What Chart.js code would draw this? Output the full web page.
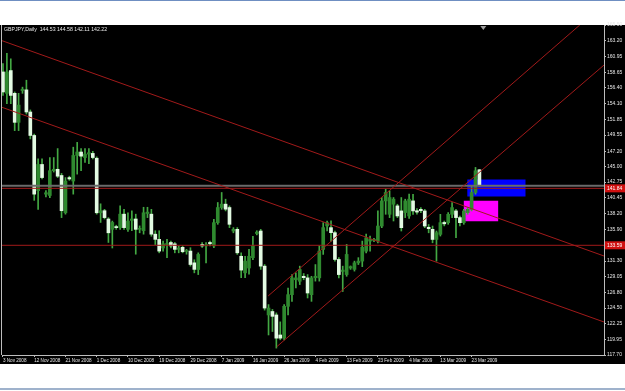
<!DOCTYPE html>
<html>
<head>
<meta charset="utf-8">
<script src="https://cdn.jsdelivr.net/npm/chart.js@4.4.1/dist/chart.umd.min.js"></script>
<style>
  html, body { margin: 0; padding: 0; background: #fff; }
  #wrap { position: relative; width: 625px; height: 391px; overflow: hidden; }
  #priceChart { position: absolute; left: 0; top: 0; }
  #caption { position: absolute; left: 4px; top: 26px; color: #e8e8e8; font: 5.2px 'Liberation Sans', Arial, sans-serif; white-space: pre; }
</style>
</head>
<body>
<div id="wrap">
  <canvas id="priceChart" width="625" height="391"></canvas>
  <div id="caption">GBPJPY,Daily  144.53 144.58 142.11 142.22</div>
</div>
<script>
// daily candles, 3 Nov 2008 .. 25 Mar 2009 (bar index = position)
const opens = [
  158.7, 155.6, 158.9, 155.6, 151.4, 156.0, 156.1, 152.9, 149.5, 141.5,
  145.3, 141.0, 140.8, 144.4, 144.6, 143.7, 138.3, 143.4, 142.9, 146.6,
  147.1, 146.3, 146.8, 146.9, 146.2, 138.3, 138.6, 137.4, 135.9, 136.3,
  136.15, 138.1, 135.9, 137.2, 137.4, 135.9, 135.7, 138.2, 138.1, 135.2,
  134.45, 133.2, 133.7, 134.0, 133.8, 133.0, 133.3, 132.7, 132.75, 131.05,
  130.08, 133.7, 133.5, 134.0, 133.5, 136.87, 139.06, 139.55, 139.06, 135.66,
  135.9, 132.0, 129.6, 130.3, 131.8, 135.3, 135.66, 130.57, 123.5, 124.0,
  123.5, 120.6, 120.14, 124.75, 126.44, 128.6, 128.38, 129.1, 128.87, 126.44,
  128.9, 128.87, 132.99, 136.4, 136.15, 135.42, 131.54, 129.8, 129.35, 130.3,
  130.1, 131.05, 131.3, 132.74, 134.2, 134.3, 134.2, 136.38, 140.02, 138.08,
  139.54, 139.3, 138.57, 138.33, 137.84, 140.02, 138.6, 138.8, 138.57, 136.2,
  135.9, 134.44, 135.17, 136.9, 136.87, 138.08, 138.57, 137.6, 136.87, 138.33,
  138.8, 141.24, 144.53
];
const highs = [
  159.9, 161.4, 160.6, 155.8, 155.6, 156.5, 157.5, 153.2, 149.7, 146.1,
  146.1, 141.5, 146.3, 146.3, 147.6, 144.0, 143.4, 143.6, 147.8, 148.5,
  147.6, 147.6, 147.6, 147.2, 146.4, 139.6, 138.8, 137.6, 137.1, 136.5,
  139.3, 138.8, 138.3, 138.6, 138.1, 136.4, 139.1, 139.1, 138.8, 135.7,
  135.7, 134.2, 134.45, 134.2, 134.0, 133.5, 133.5, 133.0, 133.24, 131.5,
  132.5, 134.0, 134.0, 134.2, 137.36, 139.79, 141.24, 140.27, 139.3, 136.15,
  136.15, 132.5, 132.0, 133.0, 134.9, 135.7, 135.9, 130.8, 125.0, 124.3,
  123.8, 122.5, 125.0, 127.4, 129.35, 129.6, 130.57, 129.5, 129.35, 129.1,
  130.8, 133.5, 136.87, 137.1, 137.12, 135.66, 131.8, 130.57, 133.72, 130.6,
  131.3, 131.8, 134.2, 135.2, 134.93, 134.6, 138.57, 140.51, 141.72, 141.48,
  140.51, 139.54, 140.51, 140.27, 141.0, 140.99, 138.9, 139.06, 138.8, 136.6,
  136.38, 135.66, 138.08, 137.1, 138.33, 139.79, 138.8, 137.84, 138.8, 139.06,
  142.2, 144.87, 144.58
];
const lows = [
  155.3, 154.1, 154.1, 150.2, 150.2, 155.6, 152.6, 149.0, 140.1, 138.8,
  143.2, 140.6, 140.5, 144.2, 143.4, 137.6, 138.1, 143.0, 141.0, 143.9,
  144.4, 145.6, 145.4, 146.1, 138.1, 136.9, 137.4, 134.0, 133.2, 135.9,
  135.9, 135.9, 135.6, 135.7, 132.3, 135.4, 135.2, 137.6, 134.9, 133.7,
  132.5, 132.75, 131.8, 133.2, 132.5, 132.5, 132.5, 132.3, 130.57, 129.6,
  129.35, 133.3, 131.05, 133.5, 133.24, 136.63, 138.8, 138.57, 136.15, 135.4,
  132.27, 128.9, 128.9, 129.4, 131.5, 135.1, 130.1, 124.2, 120.6, 121.1,
  118.7, 119.9, 119.9, 123.5, 125.47, 127.41, 127.9, 128.6, 125.96, 125.47,
  128.4, 128.4, 132.27, 135.66, 134.2, 131.3, 128.87, 126.9, 129.1, 130.1,
  129.85, 130.8, 130.5, 132.5, 132.74, 134.1, 133.95, 136.14, 138.08, 137.6,
  137.11, 137.6, 135.66, 137.6, 137.5, 138.08, 138.1, 138.3, 136.14, 135.4,
  133.95, 131.29, 134.93, 136.4, 136.63, 137.6, 134.68, 136.38, 136.63, 138.08,
  138.57, 140.99, 142.11
];
const closes = [
  155.8, 158.7, 155.3, 151.4, 153.9, 156.2, 152.9, 149.5, 141.0, 145.3,
  143.4, 141.2, 144.4, 144.6, 143.6, 138.6, 142.9, 143.2, 146.6, 147.1,
  146.5, 146.8, 147.0, 146.3, 138.3, 138.6, 137.6, 135.4, 136.9, 136.15,
  138.1, 136.15, 137.1, 137.4, 135.9, 136.0, 138.3, 138.4, 135.2, 134.45,
  132.75, 133.8, 133.8, 133.5, 133.0, 133.2, 132.66, 132.8, 130.81, 130.1,
  132.27, 133.5, 133.7, 133.8, 136.87, 139.06, 139.55, 138.82, 136.63, 135.9,
  132.5, 130.0, 131.3, 132.0, 133.5, 135.5, 130.57, 124.5, 124.5, 123.3,
  120.14, 120.14, 124.75, 126.44, 128.87, 128.87, 130.08, 128.9, 126.68, 128.87,
  129.1, 132.75, 136.15, 136.87, 135.42, 131.54, 129.35, 130.0, 132.27, 130.5,
  131.05, 131.3, 133.3, 134.68, 134.44, 134.4, 136.38, 140.02, 141.24, 140.51,
  140.27, 137.84, 136.14, 140.02, 140.27, 138.57, 138.4, 138.6, 136.38, 136.0,
  134.44, 135.42, 136.87, 136.7, 138.08, 139.05, 137.6, 136.87, 138.57, 138.8,
  141.24, 144.39, 142.22
];

// time axis labels, one every 8 bars
const xTickLabels = [
  '3 Nov 2008', '12 Nov 2008', '21 Nov 2008', '1 Dec 2008', '10 Dec 2008',
  '19 Dec 2008', '29 Dec 2008', '7 Jan 2009', '16 Jan 2009', '26 Jan 2009',
  '4 Feb 2009', '13 Feb 2009', '23 Feb 2009', '4 Mar 2009', '13 Mar 2009',
  '23 Mar 2009'
];
const barsPerLabel = 8;

// price axis labels
const yTicks = [
  165.50, 163.20, 160.95, 158.65, 156.40, 154.10, 151.85, 149.55, 147.20,
  145.00, 142.75, 140.45, 138.20, 135.90, 131.30, 129.05, 126.80, 124.50,
  122.25, 119.95, 117.70
];

// horizontal levels and bid
const levelPrices = [141.84, 133.59];
const bidPrice = 142.22;

// trend lines (bar index / price)
const trendStartIdx = [-0.26, -0.26, 67.9, 70.1];
const trendStartPrice = [163.23, 153.58, 126.25, 118.9];
const trendEndIdx = [153.9, 153.9, 147.7, 153.9];
const trendEndPrice = [132.04, 122.48, 165.5, 159.7];

// rectangles (blue, magenta)
const boxStartIdx = [118.9, 118.0];
const boxEndIdx = [133.8, 126.8];
const boxLow = [140.65, 137.06];
const boxHigh = [143.12, 140.06];

const xMin = -0.25;
const xMax = 153.9;
const yMin = 117.70;
const yMax = 165.50;

const bullFill = '#2f8a2f';
const bearFill = '#e2fae2';
const wickColor = '#43a843';
const lineRed = '#a11a1a';
const boxColors = ['#0000ff', '#ff00ff'];

const framePlugin = {
    id: 'frame',
    beforeDraw(chart) {
        const ctx = chart.ctx;
        const a = chart.chartArea;
        ctx.save();
        ctx.fillStyle = '#ffffff';
        ctx.fillRect(0, 0, chart.width, chart.height);
        ctx.fillStyle = '#6f8fc2';
        ctx.fillRect(0, 0, chart.width, 1);
        ctx.fillStyle = '#000000';
        ctx.fillRect(0, a.top, chart.width, 339);
        ctx.fillStyle = '#9fb2cc';
        ctx.fillRect(0, 388, chart.width, 2);
        ctx.fillStyle = '#bdbdbd';
        ctx.fillRect(a.left - 1, a.top, 1, a.bottom - a.top);
        ctx.restore();
    },
    afterDraw(chart) {
        const ctx = chart.ctx;
        const a = chart.chartArea;
        const y = chart.scales.y;
        const x = chart.scales.x;
        ctx.save();
        ctx.font = '5px "Liberation Sans", Arial, sans-serif';
        ctx.textBaseline = 'middle';
        levelPrices.forEach(p => {
            const py = y.getPixelForValue(p);
            ctx.fillStyle = '#d01010';
            ctx.fillRect(a.right + 1, py - 4, chart.width - a.right - 1, 8);
            ctx.fillStyle = '#ffffff';
            ctx.fillText(p.toFixed(2), a.right + 3, py);
        });
        // chart shift marker
        const mx = x.getPixelForValue(opens.length);
        ctx.fillStyle = '#a0a0a0';
        ctx.beginPath();
        ctx.moveTo(mx - 3, a.top + 1);
        ctx.lineTo(mx + 3, a.top + 1);
        ctx.lineTo(mx, a.top + 5);
        ctx.closePath();
        ctx.fill();
        ctx.restore();
    }
};

const candleIdx = opens.map((_, i) => i);

const datasets = [];

boxStartIdx.forEach((s, k) => {
    datasets.push({
        type: 'line',
        order: 5,
        data: [
            { x: s, y: boxLow[k] }, { x: boxEndIdx[k], y: boxLow[k] },
            { x: boxEndIdx[k], y: boxHigh[k] }, { x: s, y: boxHigh[k] },
            { x: s, y: boxLow[k] }
        ],
        borderWidth: 0,
        borderColor: boxColors[k],
        backgroundColor: boxColors[k],
        fill: 'shape',
        pointRadius: 0
    });
});

datasets.push({
    type: 'bar',
    order: 4,
    grouped: false,
    data: candleIdx.map(i => ({ x: i, y: [lows[i], highs[i]] })),
    backgroundColor: wickColor,
    barThickness: 1,
    borderWidth: 0
});

datasets.push({
    type: 'bar',
    order: 3,
    grouped: false,
    data: candleIdx.map(i => ({ x: i, y: [opens[i], closes[i]] })),
    backgroundColor: ctx => closes[ctx.dataIndex] >= opens[ctx.dataIndex] ? bullFill : bearFill,
    borderColor: wickColor,
    borderWidth: 0,
    barThickness: 3,
    minBarLength: 1
});

datasets.push({
    type: 'line',
    order: 2,
    data: [{ x: xMin, y: bidPrice }, { x: xMax, y: bidPrice }],
    borderColor: '#6a6a6a',
    borderWidth: 2,
    pointRadius: 0
});

levelPrices.forEach(p => {
    datasets.push({
        type: 'line',
        order: 1,
        data: [{ x: xMin, y: p }, { x: xMax, y: p }],
        borderColor: lineRed,
        borderWidth: 1,
        pointRadius: 0
    });
});

trendStartIdx.forEach((s, k) => {
    datasets.push({
        type: 'line',
        order: 1,
        data: [{ x: s, y: trendStartPrice[k] }, { x: trendEndIdx[k], y: trendEndPrice[k] }],
        borderColor: lineRed,
        borderWidth: 1,
        pointRadius: 0
    });
});

const xFont = { family: 'Liberation Sans', size: 4.6 };
const yFont = { family: 'Liberation Sans', size: 5 };

new Chart(document.getElementById('priceChart'), {
    type: 'bar',
    data: { datasets },
    plugins: [framePlugin],
    options: {
        responsive: false,
        animation: false,
        devicePixelRatio: 1,
        layout: { padding: { left: 2, top: 25, right: 0, bottom: 26 } },
        plugins: {
            legend: { display: false },
            tooltip: { enabled: false }
        },
        scales: {
            x: {
                type: 'linear',
                min: xMin,
                max: xMax,
                offset: false,
                grid: { display: true, drawOnChartArea: false, offset: false, color: '#bdbdbd', tickLength: 2 },
                border: { color: '#bdbdbd' },
                ticks: {
                    color: '#e6e6e6',
                    font: xFont,
                    padding: 1,
                    align: 'start',
                    maxRotation: 0,
                    autoSkip: false,
                    callback: (v, i) => xTickLabels[i]
                },
                afterBuildTicks: s => { s.ticks = xTickLabels.map((_, k) => ({ value: k * barsPerLabel })); },
                afterFit: s => { s.height = 10; s.paddingLeft = 0; s.paddingRight = 0; }
            },
            y: {
                position: 'right',
                min: yMin,
                max: yMax,
                beginAtZero: false,
                grid: { display: true, drawOnChartArea: false, color: '#bdbdbd', tickLength: 2 },
                border: { color: '#bdbdbd' },
                ticks: {
                    color: '#e6e6e6',
                    font: yFont,
                    padding: 1,
                    autoSkip: false,
                    callback: v => v.toFixed(2)
                },
                afterBuildTicks: s => { s.ticks = yTicks.map(v => ({ value: v })); },
                afterFit: s => { s.width = 21; s.paddingTop = 0; s.paddingBottom = 0; }
            }
        }
    }
});
</script>
</body>
</html>
